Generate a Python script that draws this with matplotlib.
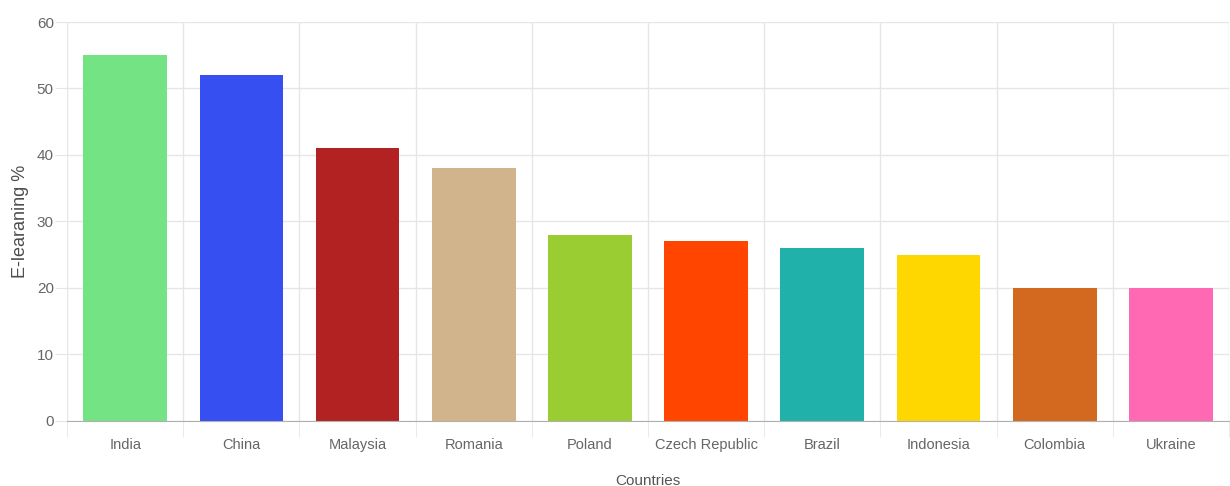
import matplotlib.pyplot as plt
import numpy as np

countries = ['India', 'China', 'Malaysia', 'Romania', 'Poland', 'Czech Republic',
             'Brazil', 'Indonesia', 'Colombia', 'Ukraine']
elearning = [55, 52, 41, 38, 28, 27, 26, 25, 20, 20]
colors = ['#74E384', '#364FF0', '#B22222', '#D2B48C', '#9ACD32', '#FF4500',
          '#20B2AA', '#FFD700', '#D2691E', '#FF69B4']
yticks = [0, 10, 20, 30, 40, 50, 60]

plt.rcParams['font.family'] = ['Liberation Sans', 'DejaVu Sans']

fig = plt.figure(figsize=(12.3, 4.86), dpi=100)
ax = fig.add_axes([0.0545, 0.134, 0.9447, 0.8207])

x = np.arange(len(countries))
ax.bar(x, elearning, width=0.72, color=colors, zorder=3)

ax.set_xlim(-0.5, len(countries) - 0.5)
ax.set_ylim(0, 60)
ax.set_yticks(yticks)
ax.set_xticks(x)
ax.set_xticklabels(countries)
ax.set_xticks(np.arange(-0.5, len(countries)), minor=True)

# grid like chart.js
ax.grid(axis='y', which='major', color='#e6e6e6', linewidth=1, zorder=0)
ax.grid(axis='x', which='minor', color='#e6e6e6', linewidth=1, zorder=0)
ax.tick_params(axis='y', which='major', length=8.5, color='#e6e6e6',
               labelcolor='#666666', labelsize=11, pad=1)
ax.tick_params(axis='x', which='major', length=0, labelcolor='#666666',
               labelsize=10.5, pad=12)
ax.tick_params(axis='x', which='minor', length=11.5, color='#e6e6e6')

for s in ['top', 'right', 'left']:
    ax.spines[s].set_visible(False)
ax.spines['bottom'].set_color('#b0b0b0')
ax.spines['bottom'].set_zorder(4)

ax.set_ylabel('E-learaning %', color='#4d4d4d', fontsize=13, labelpad=6)
ax.set_xlabel('Countries', color='#555555', fontsize=11, labelpad=16)

fig.savefig('out.png', dpi=100)
